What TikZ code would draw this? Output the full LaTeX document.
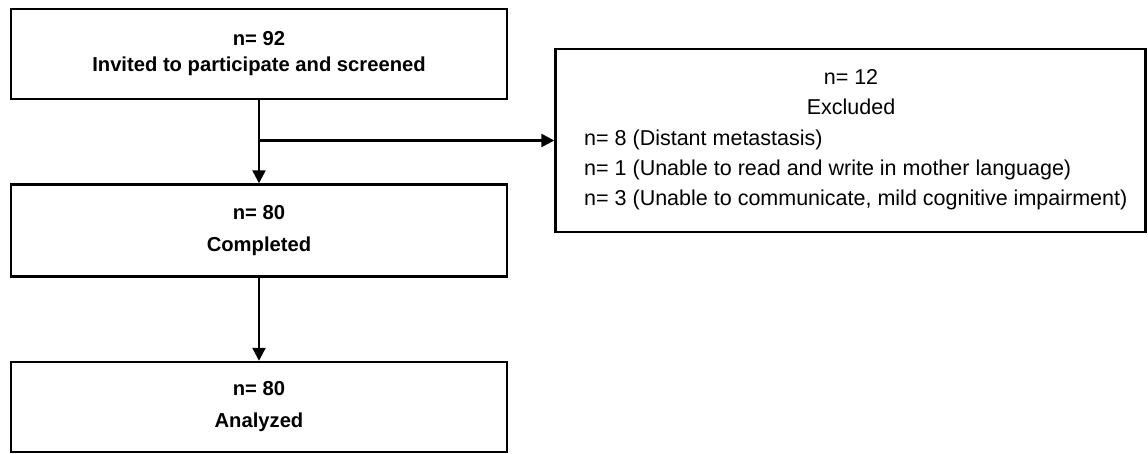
\documentclass[tikz,border=0pt]{standalone}
\usepackage{fontspec}
\setmainfont{Liberation Sans}
\usetikzlibrary{arrows.meta}
\tikzset{
  flowbox/.style={draw, line width=2.4pt, rectangle, inner sep=0pt, align=center,
    minimum width=496pt, font=\fontsize{20.2}{26}\selectfont\bfseries},
  tallbox/.style={flowbox, font=\fontsize{20.2}{32}\selectfont\bfseries},
  plaintext/.style={inner sep=0pt, font=\fontsize{21.5}{30}\selectfont},
  conn/.style={line width=2.4pt, -{Triangle[length=13pt,width=13pt]}},
}
\begin{document}
\begin{tikzpicture}[x=1pt,y=-1pt]
\useasboundingbox (0,0) rectangle (1148,454);
\node[flowbox, minimum height=90pt] (b1) at (259,54) {n= 92\\Invited to participate and screened};
\node[tallbox, minimum height=92pt] (b2) at (259,230.5) {n= 80\\Completed};
\node[tallbox, minimum height=90pt] (b3) at (259,407) {n= 80\\Analyzed};
\node[draw, line width=2.4pt, rectangle, inner sep=0pt, minimum width=590pt, minimum height=183pt] (excl) at (850.5,140.5) {};
\node[plaintext, align=center] (exh) at (851,92) {n= 12\\Excluded};
\node[plaintext, align=left, anchor=west] (exl) at (584,170) {n= 8 (Distant metastasis)\\n= 1 (Unable to read and write in mother language)\\n= 3 (Unable to communicate, mild cognitive impairment)};
\coordinate (br) at (b1.south |- excl.west);
\draw[conn] (b1) -- (b2);
\draw[conn] (br) -- (excl.west);
\draw[conn] (b2) -- (b3);
\end{tikzpicture}
\end{document}
